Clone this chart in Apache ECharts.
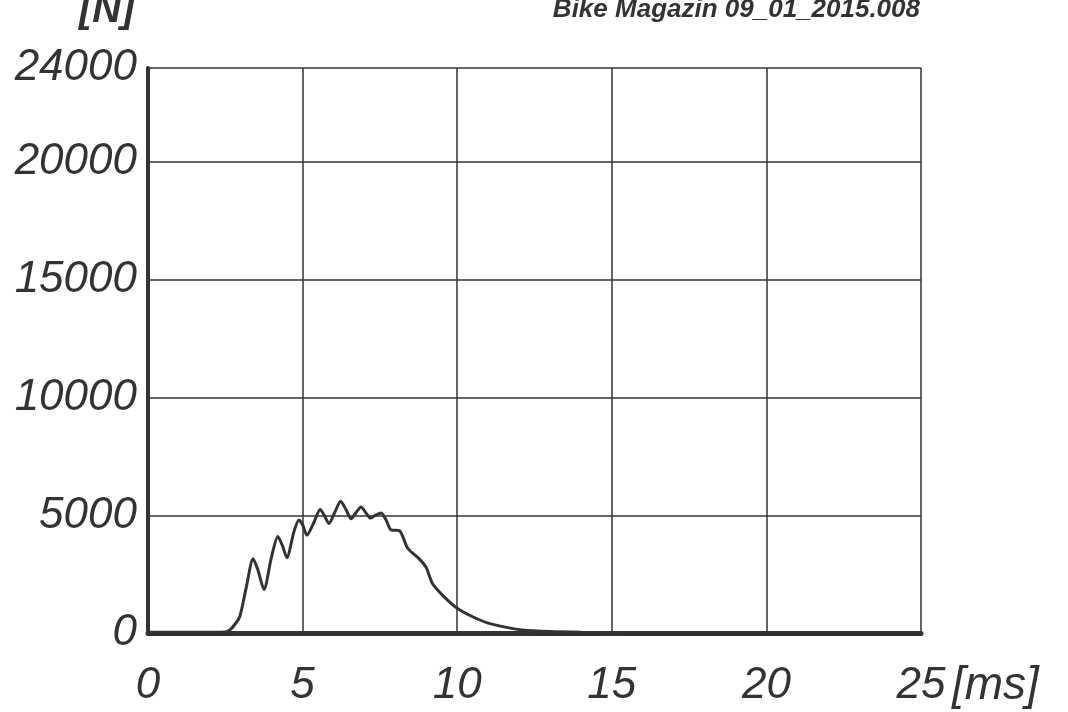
<!DOCTYPE html>
<html>
<head>
<meta charset="utf-8">
<script src="https://cdn.jsdelivr.net/npm/echarts@6/dist/echarts.min.js"></script>
<style>
html,body{margin:0;padding:0;background:#fff;}
#c{width:1068px;height:712px;}
</style>
</head>
<body>
<div id="c"></div>
<script>
// time [ms]
var timeMs = [0, 1, 2, 2.5, 2.65, 2.8, 2.97, 3.18, 3.4, 3.55, 3.75, 3.99, 4.2, 4.35, 4.49, 4.72, 4.88, 5.0, 5.14, 5.35, 5.57, 5.7, 5.85, 6.05, 6.23, 6.4, 6.57, 6.72, 6.89, 7.05, 7.19, 7.35, 7.54, 7.7, 7.86, 8.13, 8.4, 8.77, 8.99, 9.2, 9.53, 10.0, 10.5, 11.0, 11.6, 12.1, 13, 14, 15, 25];
// force [N]
var forceN = [30, 30, 30, 40, 130, 350, 700, 1950, 3150, 2700, 1850, 3200, 4100, 3700, 3200, 4300, 4800, 4600, 4150, 4650, 5250, 5000, 4650, 5150, 5600, 5250, 4850, 5100, 5350, 5100, 4880, 5000, 5100, 4800, 4380, 4350, 3600, 3150, 2800, 2100, 1600, 1050, 690, 420, 240, 130, 60, 30, 20, 10];
var xTicks = [0, 5, 10, 15, 20, 25];
var yTicks = [0, 5000, 10000, 15000, 20000, 24000];
var yUnit = '[N]';
var xUnit = '[ms]';
var headerText = 'Bike Magazin 09_01_2015.008';

var pts = timeMs.map(function (t, i) { return [t, forceN[i]]; });
var ink = '#333333';
var fontFam = '"Liberation Sans", Arial, sans-serif';

var chart = echarts.init(document.getElementById('c'));
chart.setOption({
  backgroundColor: '#ffffff',
  animation: false,
  title: [
    { text: yUnit, left: 74, top: -14,
      textStyle: { fontFamily: fontFam, fontStyle: 'italic', fontWeight: 'bold', fontSize: 40, color: ink } },
    { text: headerText, right: 143, top: -8,
      textStyle: { fontFamily: fontFam, fontStyle: 'italic', fontWeight: 'bold', fontSize: 26, color: ink } }
  ],
  grid: { left: 148, right: 147, top: 68, bottom: 79, containLabel: false, outerBoundsMode: 'none' },
  xAxis: {
    type: 'value', min: xTicks[0], max: xTicks[xTicks.length - 1], interval: 5,
    name: '\n' + xUnit, nameLocation: 'end', nameGap: 31,
    nameTextStyle: { color: ink, fontFamily: fontFam, fontStyle: 'italic', fontSize: 46,
      lineHeight: 106 },
    axisLine: { show: true, lineStyle: { color: ink, width: 5 } },
    axisTick: { show: false },
    splitLine: { show: true, lineStyle: { color: ink, width: 1.5 } },
    axisLabel: {
      margin: 31, color: ink, fontFamily: fontFam, fontStyle: 'italic', fontSize: 44,
      formatter: function (v) { return String(v); }
    }
  },
  yAxis: {
    type: 'value', min: yTicks[0], max: yTicks[yTicks.length - 1], interval: 5000,
    axisLine: { show: true, lineStyle: { color: ink, width: 4 } },
    axisTick: { show: false },
    splitLine: { show: true, lineStyle: { color: ink, width: 1.5 } },
    axisLabel: {
      margin: 11, color: ink, fontFamily: fontFam, fontStyle: 'italic', fontSize: 44,
      showMaxLabel: true,
      formatter: function (v) { return String(v); }
    }
  },
  series: [{
    type: 'line', data: pts, smooth: 0.25, symbol: 'none',
    lineStyle: { color: ink, width: 3 }
  }]
});
</script>
</body>
</html>
